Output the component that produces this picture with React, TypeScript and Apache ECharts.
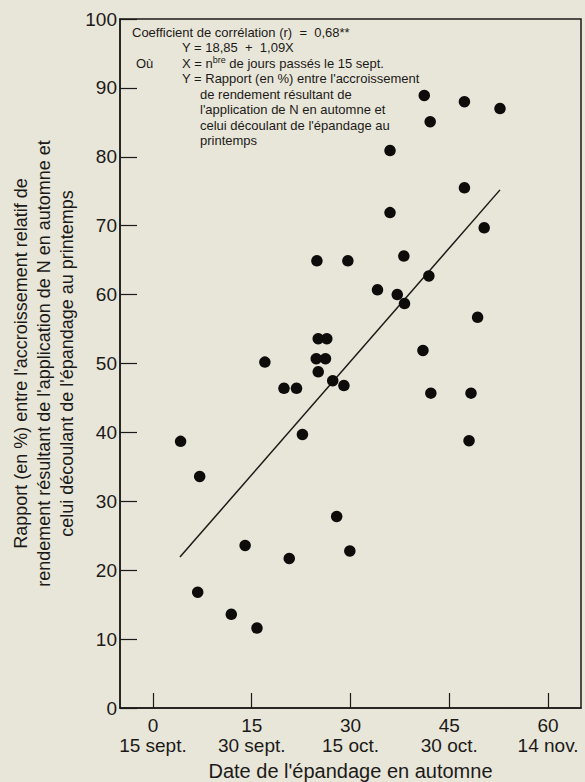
import React, { useEffect, useRef } from "react";
import * as echarts from "echarts";

// Days after 15 Sept. (X) and ratio in % (Y)
const xDays = [4.2, 7.1, 6.8, 11.9, 15.8, 14.0, 20.7, 22.7, 27.9, 29.9, 48.0, 17.0, 19.9, 21.8, 24.9, 29.6, 25.1, 26.4, 24.8, 26.2, 25.1, 27.3, 29.0, 41.2, 47.3, 52.7, 42.1, 36.0, 47.3, 36.0, 50.3, 38.1, 41.9, 34.1, 37.1, 38.2, 49.3, 41.0, 42.2, 48.3];
const yRatio = [38.7, 33.6, 16.8, 13.6, 11.6, 23.6, 21.7, 39.7, 27.8, 22.8, 38.8, 50.2, 46.4, 46.4, 64.9, 64.9, 53.6, 53.6, 50.7, 50.7, 48.8, 47.5, 46.8, 88.9, 88.0, 87.0, 85.1, 80.9, 75.5, 71.9, 69.7, 65.6, 62.7, 60.7, 60.0, 58.7, 56.7, 51.9, 45.7, 45.7];

// Regression line end points
const lineX = [4.1, 52.7];
const lineY = [21.9, 75.2];

const xTickValues = [0, 15, 30, 45, 60];
const xTickDates = ["15 sept.", "30 sept.", "15 oct.", "30 oct.", "14 nov."];

const xName = "Date de l'épandage en automne";
const yNameLines = [
  "Rapport (en %) entre l'accroissement relatif de",
  "rendement résultant de l'application de N en automne et",
  "celui découlant de l'épandage au printemps",
];

const FONT = "'Liberation Sans', Arial, Helvetica, sans-serif";
const INK = "#1c1a18";

export default function App() {
  const ref = useRef<HTMLDivElement>(null);

  useEffect(() => {
    if (!ref.current) return;
    const chart = echarts.init(ref.current, null, { renderer: "svg" });
    const pts = xDays.map((x, i) => [x, yRatio[i]]);
    const annoStyle = { fill: INK, fontSize: 13, fontFamily: FONT };
    const t = (x: number, y: number, text: string, extra: any = {}) => ({
      type: "text",
      x,
      y,
      style: { ...annoStyle, text, textVerticalAlign: "middle", ...extra },
    });

    chart.setOption({
      animation: false,
      backgroundColor: "transparent",
      textStyle: { fontFamily: FONT, color: INK },
      grid: {
        left: 120,
        right: 4,
        top: 19,
        bottom: 74,
        containLabel: false,
        outerBoundsMode: "none",
        show: true,
        borderColor: INK,
        borderWidth: 1.5,
        backgroundColor: "transparent",
      },
      xAxis: {
        type: "value",
        min: -5,
        max: 65,
        name: xName,
        nameLocation: "middle",
        nameGap: 53,
        nameMoveOverlap: false,
        nameTextStyle: { fontSize: 20, color: INK, fontFamily: FONT },
        axisLine: { show: true, onZero: false, lineStyle: { color: INK, width: 1.5 } },
        axisTick: {
          show: true,
          inside: true,
          length: 15,
          customValues: xTickValues,
          lineStyle: { color: INK, width: 1.2 },
        },
        axisLabel: {
          customValues: xTickValues,
          fontSize: 19,
          lineHeight: 20.5,
          margin: 7,
          color: INK,
          fontFamily: FONT,
          formatter: (v: number) => {
            const i = xTickValues.indexOf(v);
            return i >= 0 ? `${v}\n${xTickDates[i]}` : "";
          },
        },
        splitLine: { show: false },
      },
      yAxis: {
        type: "value",
        min: 0,
        max: 100,
        interval: 10,
        name: yNameLines.join("\n"),
        nameLocation: "middle",
        nameGap: 42,
        nameMoveOverlap: false,
        nameTextStyle: { fontSize: 18, lineHeight: 23, color: INK, fontFamily: FONT, align: "center" },
        axisLine: { show: true, onZero: false, lineStyle: { color: INK, width: 1.5 } },
        axisTick: { show: true, inside: true, length: 17, lineStyle: { color: INK, width: 1.2 } },
        axisLabel: { fontSize: 19, margin: 3, color: INK, fontFamily: FONT },
        splitLine: { show: false },
      },
      series: [
        {
          type: "scatter",
          data: pts,
          symbol: "circle",
          symbolSize: 11.5,
          itemStyle: { color: "#0e0c0b", opacity: 1 },
          z: 3,
        },
        {
          type: "line",
          data: lineX.map((x, i) => [x, lineY[i]]),
          showSymbol: false,
          symbol: "none",
          lineStyle: { color: INK, width: 1.5 },
          z: 2,
        },
      ],
      graphic: [
        t(132, 32, "Coefficient de corrélation (r)  =  0,68**"),
        t(182, 47, "Y = 18,85  +  1,09X"),
        t(136, 63, "Où"),
        {
          type: "text",
          x: 182,
          y: 63,
          style: {
            ...annoStyle,
            textVerticalAlign: "middle",
            text: "X = n{sup|bre} de jours passés le 15 sept.",
            rich: { sup: { fontSize: 9, verticalAlign: "top", padding: [0, 0, 6, 0], fill: INK, fontFamily: FONT } },
          },
        },
        t(182, 78, "Y = Rapport (en %) entre l'accroissement"),
        t(200, 94, "de rendement résultant de"),
        t(200, 109, "l'application de N en automne et"),
        t(200, 125, "celui découlant de l'épandage au"),
        t(200, 140, "printemps"),
      ],
    });
    return () => chart.dispose();
  }, []);

  return (
    <div
      style={{
        position: "fixed",
        left: 0,
        top: 0,
        width: 585,
        height: 782,
        background: "#e8e6d9",
      }}
    >
      <div ref={ref} style={{ width: 585, height: 782 }} />
    </div>
  );
}
